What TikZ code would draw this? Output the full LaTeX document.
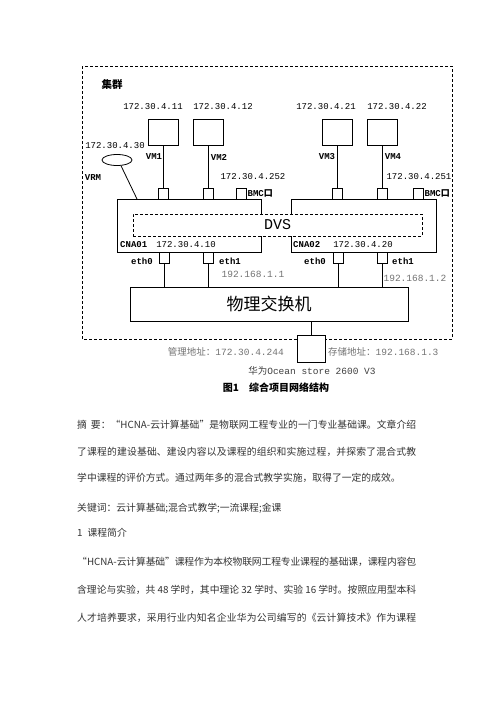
\documentclass[tikz,border=0pt]{standalone}
\usepackage{fontspec}
\setmainfont{Liberation Serif}
\setmonofont{Liberation Mono}
\newfontfamily\cjk{Noto Sans CJK SC}
\usetikzlibrary{positioning,shapes.geometric,calc}
\XeTeXlinebreaklocale "zh"
\XeTeXlinebreakskip=0pt plus 1pt minus 0.3pt
\newcommand{\fitline}[1]{\parbox{339pt}{\parfillskip=0pt\hbadness=10000\relax #1}}

\begin{document}
\begin{tikzpicture}[x=1pt, y=-1pt,
  box/.style={draw, line width=0.8pt, inner sep=0pt},
  vmbox/.style={box, minimum width=30pt, minimum height=26pt},
  port/.style={box, fill=white, minimum width=10pt, minimum height=11pt},
  frame/.style={draw, line width=0.8pt, dash pattern=on 3pt off 2pt},
  link/.style={line width=0.8pt},
  ip/.style={font=\ttfamily\fontsize{9}{10}\selectfont, inner sep=0pt},
  tag/.style={font=\ttfamily\bfseries\fontsize{9}{10}\selectfont, inner sep=0pt},
  grey/.style={font=\ttfamily\fontsize{9.5}{10}\selectfont, inner sep=0pt, text=black!55},
  body/.style={font=\cjk\fontsize{9.8}{11}\selectfont, text=black!80, inner sep=0pt, anchor=west}
]
\useasboundingbox (0,0) rectangle (500,707);
\fill[white] (0,0) rectangle (500,707);

% cluster
\draw[frame] (82,66) rectangle (452,339);
\node[font=\cjk\bfseries\fontsize{10.5}{12}\selectfont, inner sep=0pt] (cluster) at (112,84) {集群};

% hosts and DVS
\node[box, minimum width=144pt, minimum height=53pt] (cna1) at (189,225.5) {};
\node[box, minimum width=145pt, minimum height=53pt] (cna2) at (363.5,225.5) {};
\node[frame, fill=white, minimum width=289pt, minimum height=22pt, inner sep=0pt,
  font=\ttfamily\fontsize{15}{16}\selectfont] (dvs) at (277.5,225) {DVS};

% virtual machines
\node[vmbox] (vm1) at (163,132) {};
\node[vmbox] (vm2) at (208,132) {};
\node[vmbox] (vm3) at (337,132) {};
\node[vmbox] (vm4) at (382,132) {};
\node[port] (p1) at (163,193.5) {};
\node[port] (p2) at (208,193.5) {};
\node[port] (p3) at (337,193.5) {};
\node[port] (p4) at (382,193.5) {};
\node[port] (bmc1) at (241,193.5) {};
\node[port] (bmc2) at (418,193.5) {};
\draw[link] (vm1) -- (p1);
\draw[link] (vm2) -- (p2);
\draw[link] (vm3) -- (p3);
\draw[link] (vm4) -- (p4);

\node[ip] (ip11) at (153,107) {172.30.4.11};
\node[ip] (ip12) at (223,107) {172.30.4.12};
\node[ip] (ip21) at (326,107) {172.30.4.21};
\node[ip] (ip22) at (397,107) {172.30.4.22};
\node[tag] (vm1lbl) at (154,157) {VM1};
\node[tag] (vm2lbl) at (219,157) {VM2};
\node[tag] (vm3lbl) at (327,157) {VM3};
\node[tag] (vm4lbl) at (393,157) {VM4};
\node[ip] (ip252) at (253,177) {172.30.4.252};
\node[ip] (ip251) at (419,177) {172.30.4.251};
\node[tag, anchor=west, xshift=1pt] (bmc1lbl) at (bmc1.east) {BMC{\cjk 口}};
\node[tag, anchor=west, xshift=1pt] (bmc2lbl) at (bmc2.east) {BMC{\cjk 口}};

% VRM
\node[ip] (ip30) at (115,146) {172.30.4.30};
\node[draw, ellipse, line width=0.8pt, minimum width=30pt, minimum height=11pt, inner sep=0pt] (vrm) at (117,160) {};
\node[tag] (vrmlbl) at (93,178) {VRM};
\coordinate (vrmend) at (137,199);
\draw[link] (vrm.-55) -- (vrmend);

% host labels
\node[tag, anchor=west] (cna1lbl) at (120,245) {CNA01};
\node[ip] (ip10) at (186,245) {172.30.4.10};
\node[tag, anchor=west] (cna2lbl) at (293,245) {CNA02};
\node[ip] (ip20) at (363,245) {172.30.4.20};

% uplinks
\node[port] (e0a) at (164,257.5) {};
\node[port] (e1a) at (208,257.5) {};
\node[port] (e0b) at (338,257.5) {};
\node[port] (e1b) at (382,257.5) {};
\node[box, minimum width=278pt, minimum height=34pt, font=\cjk\fontsize{17}{18}\selectfont] (sw) at (269,304) {物理交换机};
\draw[link] (e0a) -- (e0a |- sw.north);
\draw[link] (e1a) -- (e1a |- sw.north);
\draw[link] (e0b) -- (e0b |- sw.north);
\draw[link] (e1b) -- (e1b |- sw.north);
\node[tag] (e0alb) at (142,261) {eth0};
\node[tag] (e1alb) at (230,261) {eth1};
\node[tag] (e0blb) at (315,261) {eth0};
\node[tag] (e1blb) at (403,261) {eth1};
\node[grey] (ip11b) at (253,274) {192.168.1.1};
\node[grey] (ip12b) at (415,278) {192.168.1.2};

% storage
\node[box, fill=white, minimum width=28pt, minimum height=27pt] (store) at (311,348.5) {};
\draw[link] (store) -- (store |- sw.south);
\node[grey, anchor=east] (mgmt) at (284,352) {{\cjk 管理地址：}172.30.4.244};
\node[grey, anchor=west] (stor) at (328,352) {{\cjk 存储地址：}192.168.1.3};
\node[grey, text=black!75] (oceanlbl) at (312,371) {{\cjk 华为}Ocean store 2600 V3};
\node[font=\cjk\bfseries\fontsize{10}{12}\selectfont, inner sep=0pt] (caption) at (276,388) {图1\quad 综合项目网络结构};

% text below
\node[body] (abs1) at (77,425) {\fitline{摘\hspace{4pt}要：“HCNA-云计算基础”是物联网工程专业的一门专业基础课。文章介绍}};
\node[body] (abs2) at (77,452) {\fitline{了课程的建设基础、建设内容以及课程的组织和实施过程，并探索了混合式教}};
\node[body] (abs3) at (77,478) {学中课程的评价方式。通过两年多的混合式教学实施，取得了一定的成效。};
\node[body] (keys) at (77,508) {关键词：云计算基础;混合式教学;一流课程;金课};
\node[body] (sec1) at (77,533) {1\hspace{5pt}课程简介};
\node[body] (par1) at (77,562) {\fitline{“HCNA-云计算基础”课程作为本校物联网工程专业课程的基础课，课程内容包}};
\node[body] (par2) at (77,590) {\fitline{含理论与实验，共 48 学时，其中理论 32 学时、实验 16 学时。按照应用型本科}};
\node[body] (par3) at (77,618) {\fitline{人才培养要求，采用行业内知名企业华为公司编写的《云计算技术》作为课程}};
\end{tikzpicture}
\end{document}
